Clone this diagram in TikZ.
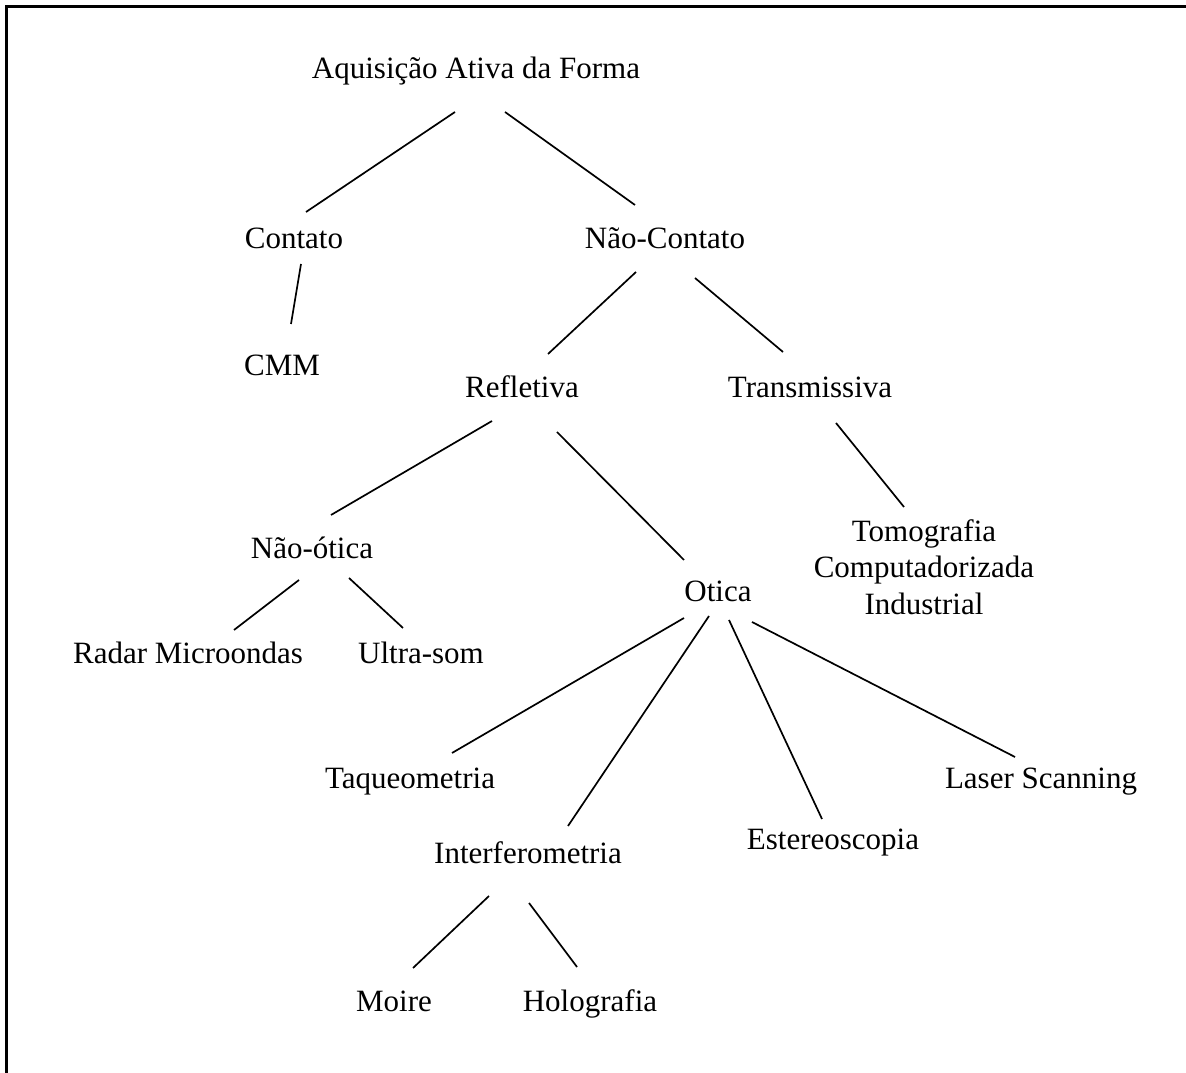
\documentclass[tikz,border=0pt]{standalone}
\usepackage{fontspec}
\setmainfont{Liberation Serif}

\begin{document}
\begin{tikzpicture}[x=1pt,y=1pt,
      rotulo/.style={inner sep=0pt,anchor=base,
        font=\fontsize{31}{36.5}\selectfont},
      ramo/.style={line width=1.7pt}]
    \useasboundingbox (0,0) rectangle (1186,1073);
    \draw[line width=3pt] (6.5,0) -- (6.5,1066.5) -- (1186,1066.5);
    \node[rotulo](raiz)   at (476,994) {Aquisição Ativa da Forma};
    \node[rotulo](cont)   at (294,824) {Contato};
    \node[rotulo](ncont)  at (665,824) {Não-Contato};
    \node[rotulo](cmm)    at (282,697) {CMM};
    \node[rotulo](refl)   at (522,675) {Refletiva};
    \node[rotulo](trans)  at (810,675) {Transmissiva};
    \node[rotulo](nopt)   at (312,514) {Não-ótica};
    \node[rotulo](opt)    at (718,471) {Otica};
    \node[rotulo,anchor=north,align=center](tomo) at (924,554)
      {Tomografia\\Computadorizada\\Industrial};
    \node[rotulo](radar)  at (188,409) {Radar Microondas};
    \node[rotulo](ultra)  at (421,409) {Ultra-som};
    \node[rotulo](taq)    at (410,284) {Taqueometria};
    \node[rotulo](interf) at (528,209) {Interferometria};
    \node[rotulo](ester)  at (833,223) {Estereoscopia};
    \node[rotulo](laser)  at (1041,284) {Laser Scanning};
    \node[rotulo](moire)  at (394,61)  {Moire};
    \node[rotulo](holo)   at (590,61)  {Holografia};
    \draw[ramo]([shift={(-21,-33)}]raiz.base)--([shift={(12,37)}]cont.base);
    \draw[ramo]([shift={(29,-33)}]raiz.base)--([shift={(-30,44)}]ncont.base);
    \draw[ramo]([shift={(7,-15)}]cont.base)--([shift={(9,52)}]cmm.base);
    \draw[ramo]([shift={(-29,-23)}]ncont.base)--([shift={(26,44)}]refl.base);
    \draw[ramo]([shift={(30,-29)}]ncont.base)--([shift={(-27,46)}]trans.base);
    \draw[ramo]([shift={(-30,-23)}]refl.base)--([shift={(19,44)}]nopt.base);
    \draw[ramo]([shift={(35,-34)}]refl.base)--([shift={(-34,42)}]opt.base);
    \draw[ramo]([shift={(26,-25)}]trans.base)--([shift={(-20,12)}]tomo.north);
    \draw[ramo]([shift={(-13,-21)}]nopt.base)--([shift={(46,34)}]radar.base);
    \draw[ramo]([shift={(37,-19)}]nopt.base)--([shift={(-18,36)}]ultra.base);
    \draw[ramo]([shift={(-34,-16)}]opt.base)--([shift={(42,36)}]taq.base);
    \draw[ramo]([shift={(-9,-14)}]opt.base)--([shift={(40,38)}]interf.base);
    \draw[ramo]([shift={(11,-18)}]opt.base)--([shift={(-11,31)}]ester.base);
    \draw[ramo]([shift={(34,-20)}]opt.base)--([shift={(-26,32)}]laser.base);
    \draw[ramo]([shift={(-39,-32)}]interf.base)--([shift={(19,44)}]moire.base);
    \draw[ramo]([shift={(1,-39)}]interf.base)--([shift={(-13,45)}]holo.base);
\end{tikzpicture}
\end{document}
